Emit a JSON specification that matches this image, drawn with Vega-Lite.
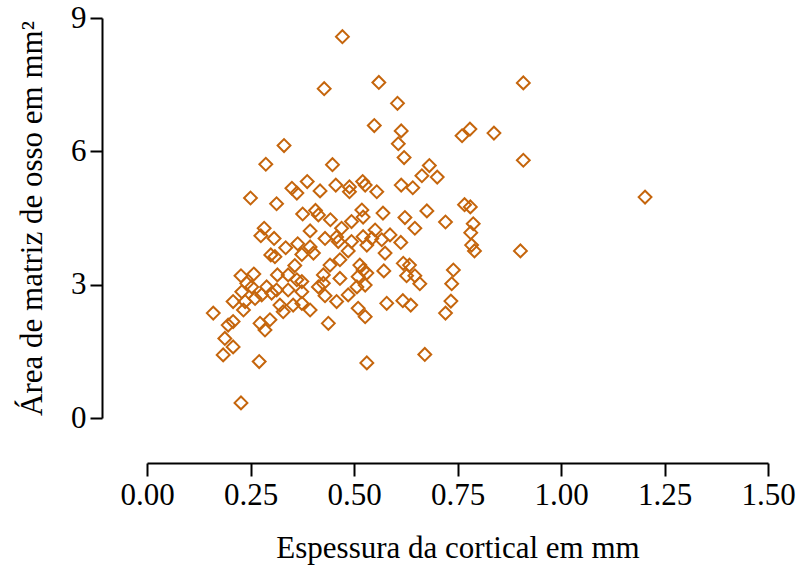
{
  "$schema": "https://vega.github.io/schema/vega-lite/v6.json",
  "width": 621,
  "height": 400,
  "autosize": {"type": "none"},
  "padding": {"left": 147, "top": 18, "right": 33, "bottom": 156},
  "config": {"view": {"stroke": null}, "font": "Liberation Serif"},
  "data": {
    "values": [
      {"espessura": 0.472, "area": 8.58}, {"espessura": 0.560, "area": 7.55}, {"espessura": 0.428, "area": 7.41},
      {"espessura": 0.909, "area": 7.54}, {"espessura": 0.605, "area": 7.08}, {"espessura": 0.549, "area": 6.58},
      {"espessura": 0.614, "area": 6.46}, {"espessura": 0.607, "area": 6.17}, {"espessura": 0.621, "area": 5.86},
      {"espessura": 0.761, "area": 6.35}, {"espessura": 0.780, "area": 6.50}, {"espessura": 0.838, "area": 6.41},
      {"espessura": 0.909, "area": 5.80}, {"espessura": 0.331, "area": 6.13}, {"espessura": 0.287, "area": 5.71},
      {"espessura": 0.448, "area": 5.70}, {"espessura": 0.682, "area": 5.68}, {"espessura": 0.664, "area": 5.45},
      {"espessura": 0.701, "area": 5.42}, {"espessura": 0.387, "area": 5.32}, {"espessura": 0.350, "area": 5.17},
      {"espessura": 0.362, "area": 5.06}, {"espessura": 0.418, "area": 5.11}, {"espessura": 0.456, "area": 5.24},
      {"espessura": 0.489, "area": 5.20}, {"espessura": 0.489, "area": 5.09}, {"espessura": 0.521, "area": 5.32},
      {"espessura": 0.527, "area": 5.24}, {"espessura": 0.555, "area": 5.09}, {"espessura": 0.614, "area": 5.24},
      {"espessura": 0.642, "area": 5.18}, {"espessura": 1.203, "area": 4.97}, {"espessura": 0.250, "area": 4.95},
      {"espessura": 0.313, "area": 4.82}, {"espessura": 0.767, "area": 4.80}, {"espessura": 0.781, "area": 4.75},
      {"espessura": 0.376, "area": 4.59}, {"espessura": 0.407, "area": 4.67}, {"espessura": 0.414, "area": 4.57},
      {"espessura": 0.443, "area": 4.46}, {"espessura": 0.519, "area": 4.68}, {"espessura": 0.522, "area": 4.52},
      {"espessura": 0.570, "area": 4.61}, {"espessura": 0.623, "area": 4.51}, {"espessura": 0.676, "area": 4.66},
      {"espessura": 0.721, "area": 4.41}, {"espessura": 0.788, "area": 4.37}, {"espessura": 0.647, "area": 4.27},
      {"espessura": 0.782, "area": 4.17}, {"espessura": 0.494, "area": 4.42}, {"espessura": 0.470, "area": 4.27},
      {"espessura": 0.394, "area": 4.21}, {"espessura": 0.283, "area": 4.27}, {"espessura": 0.275, "area": 4.10},
      {"espessura": 0.307, "area": 4.04}, {"espessura": 0.430, "area": 4.04}, {"espessura": 0.458, "area": 4.07},
      {"espessura": 0.462, "area": 3.97}, {"espessura": 0.494, "area": 3.97}, {"espessura": 0.522, "area": 4.08},
      {"espessura": 0.551, "area": 4.23}, {"espessura": 0.543, "area": 4.04}, {"espessura": 0.567, "area": 4.01},
      {"espessura": 0.587, "area": 4.12}, {"espessura": 0.613, "area": 3.95}, {"espessura": 0.575, "area": 3.71},
      {"espessura": 0.784, "area": 3.89}, {"espessura": 0.791, "area": 3.76}, {"espessura": 0.902, "area": 3.76},
      {"espessura": 0.335, "area": 3.83}, {"espessura": 0.364, "area": 3.92}, {"espessura": 0.394, "area": 3.85},
      {"espessura": 0.402, "area": 3.71}, {"espessura": 0.374, "area": 3.68}, {"espessura": 0.486, "area": 3.76},
      {"espessura": 0.531, "area": 3.89}, {"espessura": 0.299, "area": 3.67}, {"espessura": 0.309, "area": 3.63},
      {"espessura": 0.357, "area": 3.43}, {"espessura": 0.442, "area": 3.44}, {"espessura": 0.466, "area": 3.56},
      {"espessura": 0.514, "area": 3.44}, {"espessura": 0.522, "area": 3.33}, {"espessura": 0.572, "area": 3.31},
      {"espessura": 0.619, "area": 3.48}, {"espessura": 0.634, "area": 3.44}, {"espessura": 0.627, "area": 3.20},
      {"espessura": 0.647, "area": 3.20}, {"espessura": 0.659, "area": 3.02}, {"espessura": 0.740, "area": 3.33},
      {"espessura": 0.736, "area": 3.02}, {"espessura": 0.258, "area": 3.24}, {"espessura": 0.315, "area": 3.22},
      {"espessura": 0.341, "area": 3.22}, {"espessura": 0.227, "area": 3.20}, {"espessura": 0.362, "area": 3.11},
      {"espessura": 0.426, "area": 3.22}, {"espessura": 0.466, "area": 3.14}, {"espessura": 0.510, "area": 3.18},
      {"espessura": 0.531, "area": 3.26}, {"espessura": 0.374, "area": 3.07}, {"espessura": 0.241, "area": 3.03},
      {"espessura": 0.253, "area": 2.95}, {"espessura": 0.229, "area": 2.84}, {"espessura": 0.289, "area": 2.95},
      {"espessura": 0.313, "area": 2.88}, {"espessura": 0.341, "area": 2.88}, {"espessura": 0.277, "area": 2.77},
      {"espessura": 0.301, "area": 2.81}, {"espessura": 0.208, "area": 2.62}, {"espessura": 0.237, "area": 2.62},
      {"espessura": 0.261, "area": 2.69}, {"espessura": 0.233, "area": 2.43}, {"espessura": 0.321, "area": 2.54},
      {"espessura": 0.329, "area": 2.39}, {"espessura": 0.353, "area": 2.54}, {"espessura": 0.374, "area": 2.84},
      {"espessura": 0.414, "area": 2.95}, {"espessura": 0.430, "area": 2.75}, {"espessura": 0.426, "area": 3.03},
      {"espessura": 0.486, "area": 2.77}, {"espessura": 0.507, "area": 2.95}, {"espessura": 0.527, "area": 2.99},
      {"espessura": 0.458, "area": 2.62}, {"espessura": 0.374, "area": 2.58}, {"espessura": 0.394, "area": 2.43},
      {"espessura": 0.510, "area": 2.47}, {"espessura": 0.527, "area": 2.28}, {"espessura": 0.579, "area": 2.58},
      {"espessura": 0.438, "area": 2.13}, {"espessura": 0.160, "area": 2.36}, {"espessura": 0.208, "area": 2.17},
      {"espessura": 0.196, "area": 2.09}, {"espessura": 0.273, "area": 2.13}, {"espessura": 0.297, "area": 2.21},
      {"espessura": 0.285, "area": 1.98}, {"espessura": 0.188, "area": 1.79}, {"espessura": 0.208, "area": 1.60},
      {"espessura": 0.184, "area": 1.42}, {"espessura": 0.271, "area": 1.27}, {"espessura": 0.531, "area": 1.24},
      {"espessura": 0.227, "area": 0.34}, {"espessura": 0.671, "area": 1.43}, {"espessura": 0.618, "area": 2.64},
      {"espessura": 0.637, "area": 2.54}, {"espessura": 0.734, "area": 2.63}, {"espessura": 0.721, "area": 2.36}
    ]
  },
  "mark": {
    "type": "point",
    "shape": "diamond",
    "size": 165,
    "filled": false,
    "strokeWidth": 2,
    "color": "#c5650c",
    "opacity": 1
  },
  "encoding": {
    "x": {
      "field": "espessura",
      "type": "quantitative",
      "scale": {"domain": [0, 1.5], "nice": false, "zero": false},
      "axis": {
        "title": "Espessura da cortical em mm",
        "values": [0, 0.25, 0.5, 0.75, 1, 1.25, 1.5],
        "format": ".2f",
        "offset": 45,
        "grid": false,
        "domainColor": "black",
        "domainWidth": 2,
        "tickColor": "black",
        "tickWidth": 2,
        "tickSize": 13,
        "labelFont": "Liberation Serif",
        "labelFontSize": 31,
        "labelColor": "black",
        "labelPadding": 4,
        "labelFlush": false,
        "labelOverlap": false,
        "titleFont": "Liberation Serif",
        "titleFontSize": 31,
        "titleFontWeight": "normal",
        "titleColor": "black",
        "titlePadding": 23
      }
    },
    "y": {
      "field": "area",
      "type": "quantitative",
      "scale": {"domain": [0, 9], "nice": false, "zero": false},
      "axis": {
        "title": "Área de matriz de osso em mm²",
        "values": [0, 3, 6, 9],
        "offset": 45,
        "grid": false,
        "domainColor": "black",
        "domainWidth": 2,
        "tickColor": "black",
        "tickWidth": 2,
        "tickSize": 12,
        "labelFont": "Liberation Serif",
        "labelFontSize": 31,
        "labelColor": "black",
        "labelPadding": 4,
        "labelFlush": false,
        "labelOverlap": false,
        "titleFont": "Liberation Serif",
        "titleFontSize": 31,
        "titleFontWeight": "normal",
        "titleColor": "black",
        "titlePadding": 22
      }
    }
  }
}
